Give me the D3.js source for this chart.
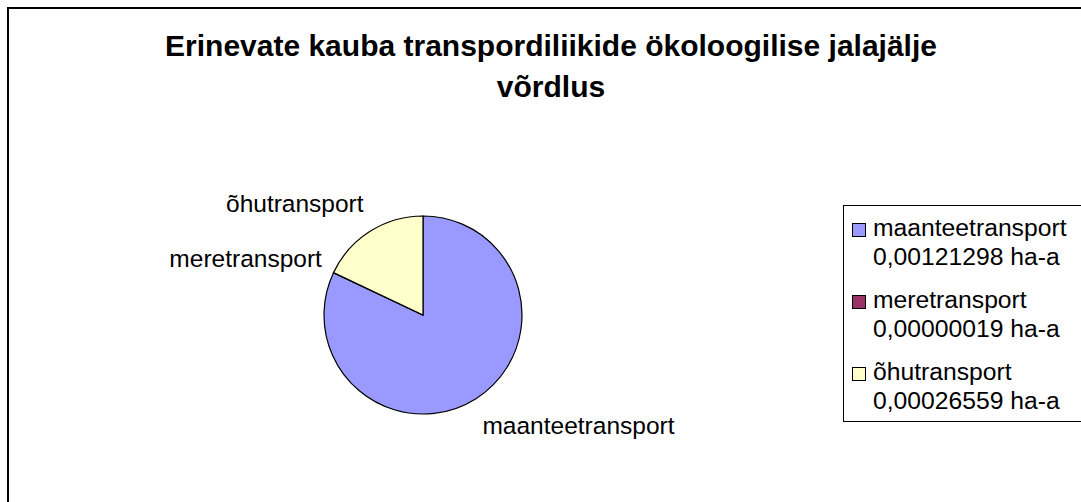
<!DOCTYPE html>
<html>
<head>
<meta charset="utf-8">
<script src="https://cdn.jsdelivr.net/npm/d3@7"></script>
<style>
  html, body { margin: 0; padding: 0; background: #fff; }
  svg { display: block; }
  text { font-family: "Liberation Sans", Arial, sans-serif; fill: #000; }
</style>
</head>
<body>
<svg id="chart" width="1081" height="502"></svg>
<script>
const categories = ["maanteetransport", "meretransport", "õhutransport"];
const values = [0.00121298, 0.00000019, 0.00026559];
const valueLabels = ["0,00121298 ha-a", "0,00000019 ha-a", "0,00026559 ha-a"];
const colors = ["#9999FF", "#993366", "#FFFFCC"];
const titleLines = ["Erinevate kauba transpordiliikide ökoloogilise jalajälje", "võrdlus"];

const svg = d3.select("#chart");
const W = 1081, H = 502;

svg.append("rect").attr("width", W).attr("height", H).attr("fill", "#fff");
// outer chart border (extends beyond visible area)
svg.append("rect").attr("x", 8).attr("y", 8).attr("width", 1200).attr("height", 700)
  .attr("fill", "none").attr("stroke", "#000").attr("stroke-width", 2);

// title
const title = svg.append("g");
titleLines.forEach((t, i) => {
  title.append("text")
    .attr("x", 551).attr("y", 56 + i * 41)
    .attr("text-anchor", "middle")
    .attr("font-size", 30).attr("font-weight", "bold")
    .text(t);
});

// pie
const cx = 423, cy = 315, r = 99;
const data = categories.map((c, i) => ({ name: c, value: values[i], color: colors[i], label: valueLabels[i] }));
const pie = d3.pie().value(d => d.value).sort(null);
const arcs = pie(data);
const arc = d3.arc().innerRadius(0).outerRadius(r);
const g = svg.append("g").attr("transform", `translate(${cx},${cy})`);
g.selectAll("path").data(arcs).enter().append("path")
  .attr("d", arc)
  .attr("fill", d => d.data.color)
  .attr("stroke", "#000").attr("stroke-width", 1.2);

// labels
const labelR = r + 14;
g.selectAll("text.lbl").data(arcs).enter().append("text")
  .attr("class", "lbl")
  .attr("font-size", 24.5)
  .each(function(d) {
    const a = (d.startAngle + d.endAngle) / 2;
    const x = Math.sin(a) * labelR, y = -Math.cos(a) * labelR;
    d3.select(this)
      .attr("text-anchor", x < 0 ? "end" : "start")
      .attr("x", x < 0 ? x + 1 : x - 1)
      .attr("y", y - Math.cos(a) * 18 + 8)
      .text(d.data.name);
  });

// legend
const lg = svg.append("g");
lg.append("rect").attr("x", 843.5).attr("y", 205.5).attr("width", 300).attr("height", 216)
  .attr("fill", "#fff").attr("stroke", "#000").attr("stroke-width", 1);
const step = 72;
data.forEach((d, i) => {
  const y0 = 236 + i * step;
  lg.append("rect").attr("x", 852.5).attr("y", y0 - 12.5).attr("width", 13).attr("height", 13)
    .attr("fill", d.color).attr("stroke", "#000").attr("stroke-width", 1);
  lg.append("text").attr("x", 873).attr("y", y0).attr("font-size", 24.7).text(d.name);
  lg.append("text").attr("x", 873).attr("y", y0 + 28.5).attr("font-size", 24.7).text(d.label);
});
</script>
</body>
</html>
